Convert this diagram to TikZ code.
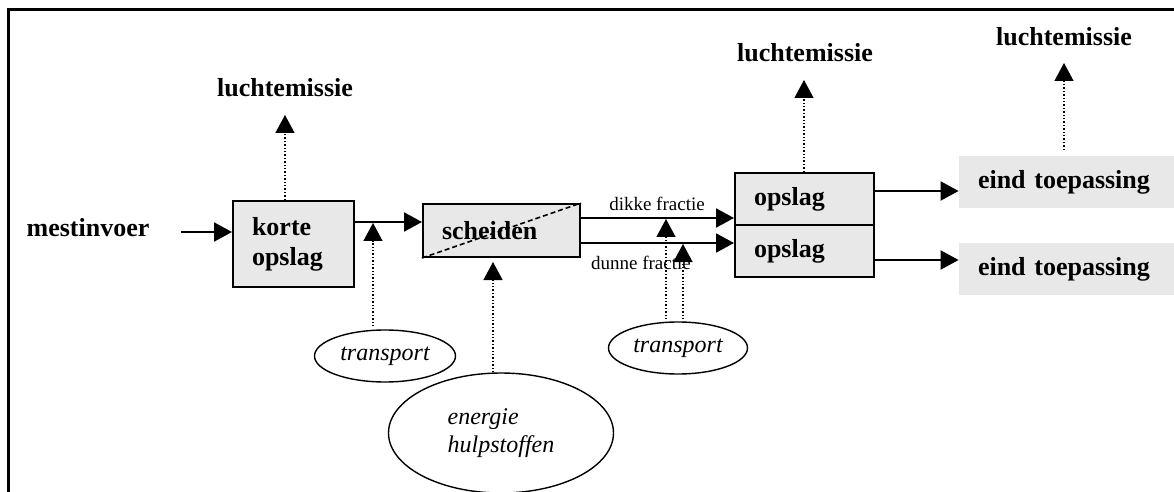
\documentclass[tikz,border=0pt]{standalone}
\usepackage{fontspec}
\setmainfont{Liberation Serif}
\usetikzlibrary{arrows.meta,shapes.geometric}
\definecolor{boxgray}{RGB}{232,232,232}

\begin{document}
\begin{tikzpicture}[x=0.5pt, y=-0.5pt,
    box/.style={draw=black, line width=1pt, fill=boxgray, inner xsep=9.5pt, inner ysep=0pt, align=left, font=\fontsize{13}{15}\selectfont\bfseries},
    endbox/.style={fill=boxgray, inner xsep=9.5pt, inner ysep=0pt, align=left, minimum width=107.5pt, text width=88.5pt, minimum height=26pt, font=\fontsize{13}{15}\selectfont\bfseries},
    lbl/.style={font=\fontsize{13}{15}\selectfont\bfseries, inner sep=0pt},
    oval/.style={draw=black, ellipse, line width=0.7pt, inner sep=0pt, align=left, font=\fontsize{12}{14}\selectfont\itshape},
    frac/.style={font=\fontsize{9.5}{11}\selectfont, inner sep=0pt},
    arr/.style={-{Triangle[length=9pt,width=9.5pt]}, line width=1pt},
    dotarr/.style={-{Triangle[length=9pt,width=9.5pt]}, line width=0.7pt, densely dotted},
]
\useasboundingbox (0,0) rectangle (1174,492);
\clip (0,0) rectangle (1174,492);

% Frame
\draw[line width=1.5pt] (8,500) -- (8,10) -- (1180,10);

% Boxes
\node[box, minimum width=60.5pt, text width=41.5pt, minimum height=43pt] (korte) at (293.5,244) {korte\\opslag};
\node[box, minimum width=78.5pt, text width=59.5pt, minimum height=26.5pt] (scheiden) at (501.5,230.5) {scheiden};
\node[box, minimum width=69.5pt, text width=50.5pt, minimum height=26pt] (opslagA) at (804.5,199) {opslag};
\node[box, minimum width=69.5pt, text width=50.5pt, minimum height=26pt] (opslagB) at (804.5,251) {opslag};
\node[endbox] (eindA) at (1066.5,182) {eind toepassing};
\node[endbox] (eindB) at (1066.5,269) {eind toepassing};

% Labels
\node[lbl] (invoer) at (88,228) {mestinvoer};
\node[lbl] (luchtA) at (285,88) {luchtemissie};
\node[lbl] (luchtB) at (805,53) {luchtemissie};
\node[lbl] (luchtC) at (1064,37) {luchtemissie};

% Ovals
\node[oval, minimum width=70.5pt, minimum height=26pt] (transA) at (385,356) {transport};
\node[oval, minimum width=112.5pt, minimum height=60pt] (energie) at (501,433) {energie\\hulpstoffen};
\node[oval, minimum width=69.5pt, minimum height=26pt] (transB) at (678,348) {transport};

% Helper coordinates
\coordinate (inlet) at (181,232);
\coordinate (kout) at (354,222);
\coordinate (dikke) at (580,218);
\coordinate (dunne) at (580,243);
\coordinate (tipA) at (373,223);
\coordinate (tipE) at (493,262);
\coordinate (tipB) at (666,219);
\coordinate (tipC) at (683,244);
\coordinate (lA) at (285,115);
\coordinate (lB) at (804,80);
\coordinate (lC) at (1064,63);
\coordinate (eC) at (1064,150);

% Main flow
\draw[arr] (inlet) -- (inlet -| korte.west);
\draw[arr] (kout) -- (kout -| scheiden.west);
\draw[dashed, dash pattern=on 2.5pt off 1.5pt, line width=0.8pt] (scheiden.south west) -- (scheiden.north east);
\draw[arr] (dikke) -- node[frac, above=3pt] {dikke fractie} (dikke -| opslagA.west);
\draw[arr] (dunne) -- node[frac, below=6pt, xshift=-8pt] {dunne fractie} (dunne -| opslagB.west);
\draw[arr] (opslagA.east |- 0,191) -- (eindA.west |- 0,191);
\draw[arr] (opslagB.east |- 0,260) -- (eindB.west |- 0,260);

% Emissions
\draw[dotarr] (korte.north -| lA) -- (lA);
\draw[dotarr] (opslagA.north -| lB) -- (lB);
\draw[dotarr] (eC) -- (lC);

% Inputs
\draw[dotarr] (transA.north -| tipA) ++(0,-3) -- (tipA);
\draw[dotarr] (energie.north -| tipE) -- (tipE);
\draw[dotarr] (transB.north -| tipB) ++(0,-2) -- (tipB);
\draw[dotarr] (transB.north -| tipC) ++(0,-2) -- (tipC);

\end{tikzpicture}
\end{document}
